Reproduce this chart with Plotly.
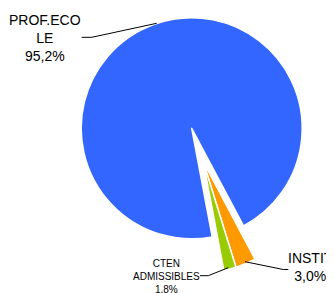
import plotly.graph_objects as go

# ---- data ----
categories = ["PROF.ECOLE", "INSTIT", "CTEN ADMISSIBLES"]
values = [95.2, 3.0, 1.8]
display_names = ["PROF.ECO<br>LE", "INSTIT", "CTEN<br>ADMISSIBLES"]
colors = ["#3366FF", "#FF9900", "#99CC00"]

# page body has an 8px default margin: figure sized to fill the rest of the window
OFF = 8
W, H = 334 - OFF, 293 - OFF
total = sum(values)

def fmt_pct(v):
    return f"{v / total * 100:.1f}".replace(".", ",") + "%"

def px(x):
    return (x - OFF) / W

def py(y):
    return 1 - (y - OFF) / H

def dom(cx, cy, r):
    return dict(x=[px(cx - r), px(cx + r)], y=[py(cy + r), py(cy - r)])

R = 110.5
rotation = 169.3

fig = go.Figure()

# main (un-exploded) part: big slice
fig.add_trace(go.Pie(
    labels=categories, values=values, sort=False, direction="clockwise",
    rotation=rotation, textinfo="none", hoverinfo="label+percent",
    marker=dict(colors=[colors[0], "rgba(0,0,0,0)", "rgba(0,0,0,0)"],
                line=dict(color=["white", "rgba(0,0,0,0)", "rgba(0,0,0,0)"],
                          width=[1.5, 0, 0])),
    domain=dom(191.7, 128.3, R), showlegend=False,
))

# exploded small slices
fig.add_trace(go.Pie(
    labels=categories, values=values, sort=False, direction="clockwise",
    rotation=rotation, textinfo="none", hoverinfo="label+percent",
    marker=dict(colors=["rgba(0,0,0,0)", colors[1], colors[2]],
                line=dict(color=["rgba(0,0,0,0)", "white", "white"],
                          width=[0, 1.5, 1.5])),
    domain=dom(203.3, 161.7, R), showlegend=False,
))

font = "Liberation Sans, Arial, sans-serif"
annotations = [
    dict(x=px(45), y=py(38), text=display_names[0] + "<br>" + fmt_pct(values[0]),
         font=dict(size=14, family=font, color="black")),
    dict(x=px(310), y=py(267), text=display_names[1] + "<br>" + fmt_pct(values[1]),
         font=dict(size=14, family=font, color="black")),
    dict(x=px(166), y=py(276), text=display_names[2] + "<br>" + fmt_pct(values[2]),
         font=dict(size=10, family=font, color="black")),
]
for a in annotations:
    a.update(xref="paper", yref="paper", showarrow=False,
             xanchor="center", yanchor="middle", align="center")

def path(pts):
    return "M " + " L ".join(f"{px(x)},{py(y)}" for x, y in pts)

leaders = [
    [(81.7, 37.3), (91.7, 37.3), (156.7, 23.3)],
    [(200, 275.7), (208.3, 275.7), (228.3, 267.7)],
    [(245, 261.7), (283.3, 269.5), (288.3, 269.5)],
]
shapes = [dict(type="path", xref="paper", yref="paper", path=path(p),
               line=dict(color="black", width=1)) for p in leaders]

fig.update_layout(
    width=W, height=H, margin=dict(l=0, r=0, t=0, b=0),
    paper_bgcolor="white", plot_bgcolor="white",
    annotations=annotations, shapes=shapes, showlegend=False,
)

fig.write_html("out.html")
